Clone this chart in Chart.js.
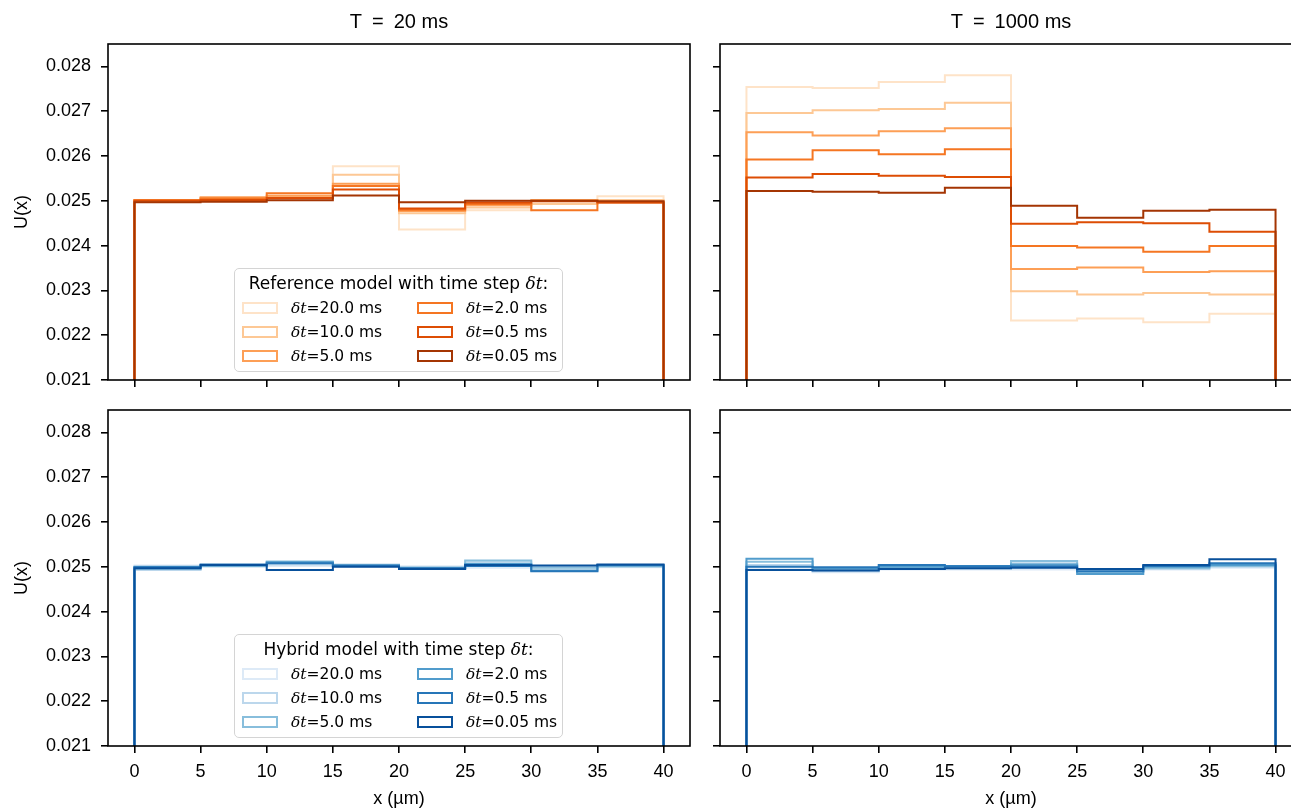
<!DOCTYPE html>
<html>
<head>
<meta charset="utf-8">
<script src="https://cdn.jsdelivr.net/npm/chart.js@4.4.1/dist/chart.umd.min.js"></script>
<style>
  body { margin: 0; width: 1291px; height: 810px; overflow: hidden; background: #fff; position: relative; }
  canvas { position: absolute; }
  .legend { position: absolute; left: 234px; width: 329px; height: 104px; box-sizing: border-box;
    border: 1.5px solid #d4d4d4; border-radius: 5px; background: rgba(255,255,255,0.8);
    font-family: "DejaVu Sans", sans-serif; color: #000; }
  .legend .ttl { position: absolute; left: 0; right: 0; top: 4px; text-align: center; font-size: 17px; line-height: 20px; }
  .legend .item { position: absolute; font-size: 15.5px; line-height: 18px; white-space: nowrap; }
  .legend .patch { display: inline-block; width: 36px; height: 12px; box-sizing: border-box; border: 2px solid;
    vertical-align: middle; margin-right: 13px; position: relative; top: -1px; }
  .legend i { font-family: "DejaVu Serif", serif; }
</style>
</head>
<body>
<canvas id="tl" width="700" height="395" style="left:0;top:0"></canvas>
<canvas id="tr" width="602" height="395" style="left:700px;top:0"></canvas>
<canvas id="bl" width="700" height="415" style="left:0;top:395px"></canvas>
<canvas id="br" width="602" height="415" style="left:700px;top:395px"></canvas>
<div class="legend" id="leg-ref" style="top:268px"></div>
<div class="legend" id="leg-hyb" style="top:634px"></div>
<script>
// bin edges along x (µm) and axis ticks
const xEdges = [0, 5, 10, 15, 20, 25, 30, 35, 40];
const xTicks = [0, 5, 10, 15, 20, 25, 30, 35, 40];
const yTicks = [0.021, 0.022, 0.023, 0.024, 0.025, 0.026, 0.027, 0.028];
const yBase = 0.021;

// time steps, coarse to fine
const stepLabels = ['20.0', '10.0', '5.0', '2.0', '0.5', '0.05'];
const orangeColors = ['#fee3c8', '#fdc895', '#fd9f56', '#f57622', '#dd4d04', '#a43503'];
const blueColors = ['#ddeaf7', '#bcd7ec', '#88bedc', '#519ccc', '#2676b8', '#08509b'];

// U(x) per bin, one row per time step (same order as stepLabels)
const refT20 = [
  [0.02502, 0.02505, 0.02504, 0.02577, 0.02436, 0.02479, 0.02494, 0.02510],
  [0.02500, 0.02506, 0.02508, 0.02558, 0.02472, 0.02485, 0.02493, 0.02502],
  [0.02502, 0.02508, 0.02511, 0.02538, 0.02477, 0.02490, 0.02502, 0.02498],
  [0.02501, 0.02505, 0.02517, 0.02533, 0.02480, 0.02493, 0.02479, 0.02496],
  [0.02500, 0.02502, 0.02506, 0.02525, 0.02483, 0.02496, 0.02499, 0.02496],
  [0.02497, 0.02498, 0.02501, 0.02512, 0.02497, 0.02500, 0.02500, 0.02499]
];
const refT1000 = [
  [0.02754, 0.02752, 0.02765, 0.02780, 0.02233, 0.02237, 0.02229, 0.02248],
  [0.02696, 0.02702, 0.02705, 0.02719, 0.02298, 0.02291, 0.02294, 0.02291],
  [0.02653, 0.02646, 0.02655, 0.02662, 0.02348, 0.02351, 0.02341, 0.02343],
  [0.02592, 0.02613, 0.02604, 0.02615, 0.02399, 0.02396, 0.02386, 0.02399],
  [0.02552, 0.02560, 0.02556, 0.02553, 0.02449, 0.02452, 0.02450, 0.02431],
  [0.02522, 0.02520, 0.02518, 0.02529, 0.02489, 0.02462, 0.02478, 0.02480]
];
const hybT20 = [
  [0.02503, 0.02500, 0.02502, 0.02501, 0.02500, 0.02498, 0.02499, 0.02499],
  [0.02493, 0.02501, 0.02505, 0.02505, 0.02500, 0.02510, 0.02500, 0.02500],
  [0.02495, 0.02502, 0.02512, 0.02504, 0.02498, 0.02514, 0.02498, 0.02501],
  [0.02500, 0.02503, 0.02510, 0.02502, 0.02496, 0.02506, 0.02492, 0.02503],
  [0.02499, 0.02505, 0.02508, 0.02503, 0.02497, 0.02502, 0.02490, 0.02504],
  [0.02497, 0.02504, 0.02493, 0.02500, 0.02495, 0.02504, 0.02503, 0.02505]
];
const hybT1000 = [
  [0.02498, 0.02488, 0.02494, 0.02494, 0.02494, 0.02494, 0.02494, 0.02498],
  [0.02504, 0.02490, 0.02496, 0.02496, 0.02508, 0.02492, 0.02496, 0.02500],
  [0.02511, 0.02493, 0.02498, 0.02499, 0.02513, 0.02488, 0.02497, 0.02502],
  [0.02518, 0.02497, 0.02500, 0.02502, 0.02505, 0.02484, 0.02500, 0.02504],
  [0.02500, 0.02499, 0.02504, 0.02501, 0.02501, 0.02490, 0.02502, 0.02508],
  [0.02493, 0.02492, 0.02495, 0.02497, 0.02498, 0.02495, 0.02504, 0.02517]
];

const tickFont = { family: '"Liberation Sans", Arial, sans-serif', size: 18 };
const labelFont = { family: '"Liberation Sans", Arial, sans-serif', size: 18 };

// histogram outline: up from the base at x=0, across each bin, down at x=40
function stepPoints(vals) {
  const pts = [{ x: xEdges[0], y: yBase }];
  vals.forEach((v, i) => {
    pts.push({ x: xEdges[i], y: v }, { x: xEdges[i + 1], y: v });
  });
  pts.push({ x: xEdges[xEdges.length - 1], y: yBase });
  return pts;
}

// black box around the plot area plus the column title
const framePlugin = {
  id: 'frame',
  afterDatasetsDraw(chart, args, opts) {
    const { ctx, chartArea: a } = chart;
    ctx.save();
    ctx.strokeStyle = '#000';
    ctx.lineWidth = 1.6;
    ctx.strokeRect(a.left, a.top, a.right - a.left, a.bottom - a.top);
    if (opts.title) {
      ctx.fillStyle = '#000';
      ctx.font = '20px "Liberation Sans", Arial, sans-serif';
      ctx.textAlign = 'center';
      ctx.textBaseline = 'middle';
      ctx.fillText(opts.title, (a.left + a.right) / 2, 22);
    }
    ctx.restore();
  }
};

function makePanel(id, rows, colors, p) {
  const datasets = rows.map((vals, i) => ({
    label: 'δt=' + stepLabels[i] + ' ms',
    data: stepPoints(vals),
    borderColor: colors[i],
    borderWidth: 2,
    borderJoinStyle: 'miter',
    pointRadius: 0,
    tension: 0,
    fill: false,
    order: rows.length - i
  }));
  const gridOpts = { drawOnChartArea: false, color: '#000', tickColor: '#000', tickLength: 7, lineWidth: 1.6 };
  return new Chart(document.getElementById(id), {
    type: 'line',
    data: { datasets },
    options: {
      responsive: false,
      animation: false,
      events: [],
      layout: { padding: { top: p.padTop, right: p.padRight, left: 0, bottom: 0 } },
      plugins: { legend: { display: false }, tooltip: { enabled: false }, frame: { title: p.title } },
      scales: {
        x: {
          type: 'linear', min: -2, max: 42,
          afterBuildTicks: s => { s.ticks = xTicks.map(v => ({ value: v })); },
          // fixed box size, no extra room for overhanging labels
          afterFit: s => { s.height = p.xHeight; s.paddingLeft = 0; s.paddingRight = 0; },
          grid: gridOpts,
          border: { display: false },
          ticks: { display: p.showX, color: '#000', font: tickFont, padding: 8, maxRotation: 0, autoSkip: false },
          title: { display: p.showX, text: 'x (µm)', color: '#000', font: labelFont, padding: { top: 0, bottom: 0 } }
        },
        y: {
          min: yBase, max: 0.0285,
          afterBuildTicks: s => { s.ticks = yTicks.map(v => ({ value: v })); },
          afterFit: s => { s.width = p.yWidth; s.paddingTop = 0; s.paddingBottom = 0; },
          grid: gridOpts,
          border: { display: false },
          ticks: { display: p.showY, color: '#000', font: tickFont, padding: 10, callback: v => v.toFixed(3) },
          title: { display: p.showY, text: 'U(x)', color: '#000', font: labelFont, padding: { top: 11, bottom: 0 } }
        }
      }
    },
    plugins: [framePlugin]
  });
}

makePanel('tl', refT20, orangeColors, { padTop: 44, padRight: 10, xHeight: 15, yWidth: 108, showX: false, showY: true, title: 'T\u2002=\u200220 ms' });
makePanel('tr', refT1000, orangeColors, { padTop: 44, padRight: 0, xHeight: 15, yWidth: 20, showX: false, showY: false, title: 'T\u2002=\u20021000 ms' });
makePanel('bl', hybT20, blueColors, { padTop: 15, padRight: 10, xHeight: 64, yWidth: 108, showX: true, showY: true });
makePanel('br', hybT1000, blueColors, { padTop: 15, padRight: 0, xHeight: 64, yWidth: 20, showX: true, showY: false });

// legends: two columns of three, filled column by column
function buildLegend(id, title, colors) {
  const box = document.getElementById(id);
  let html = '<div class="ttl">' + title + ' <i>δt</i>:</div>';
  stepLabels.forEach((lab, i) => {
    const col = Math.floor(i / 3), row = i % 3;
    const left = col === 0 ? 7 : 182;
    const top = [30, 54, 78][row];
    html += '<div class="item" style="left:' + left + 'px;top:' + top + 'px">' +
      '<span class="patch" style="border-color:' + colors[i] + '"></span><i>δt</i>=' + lab + ' ms</div>';
  });
  box.innerHTML = html;
}
buildLegend('leg-ref', 'Reference model with time step', orangeColors);
buildLegend('leg-hyb', 'Hybrid model with time step', blueColors);
</script>
</body>
</html>
